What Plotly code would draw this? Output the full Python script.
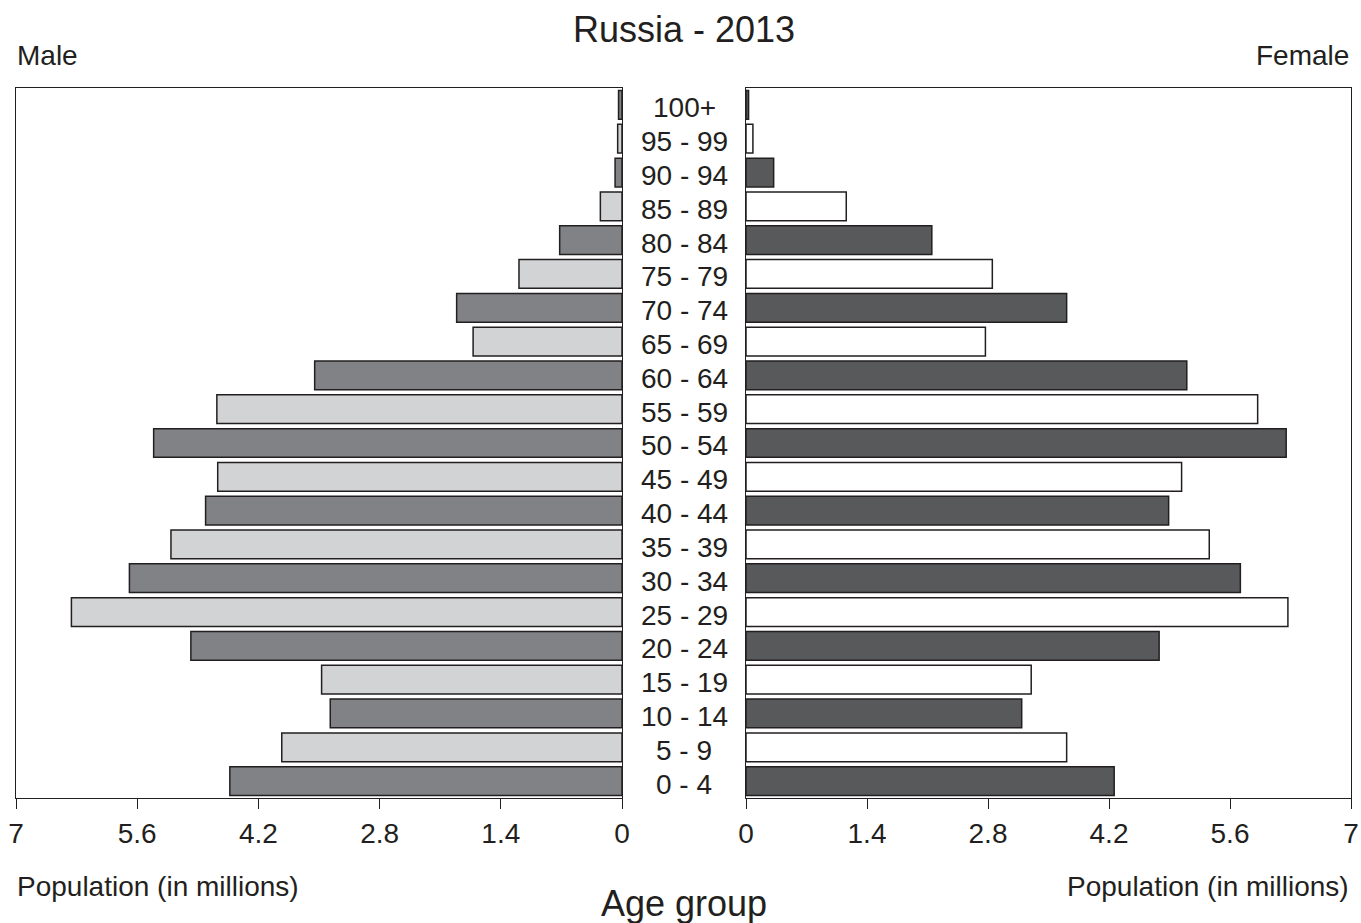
import plotly.graph_objects as go

age_groups = ["0 - 4", "5 - 9", "10 - 14", "15 - 19", "20 - 24", "25 - 29", "30 - 34",
              "35 - 39", "40 - 44", "45 - 49", "50 - 54", "55 - 59", "60 - 64", "65 - 69",
              "70 - 74", "75 - 79", "80 - 84", "85 - 89", "90 - 94", "95 - 99", "100+"]
male = [4.53, 3.93, 3.37, 3.47, 4.98, 6.36, 5.69, 5.21, 4.81, 4.67, 5.41, 4.68, 3.55,
        1.72, 1.91, 1.19, 0.72, 0.25, 0.08, 0.05, 0.04]
female = [4.26, 3.71, 3.19, 3.30, 4.78, 6.27, 5.72, 5.36, 4.89, 5.04, 6.25, 5.92, 5.10,
          2.77, 3.71, 2.85, 2.15, 1.16, 0.32, 0.08, 0.03]
tick_vals = [0, 1.4, 2.8, 4.2, 5.6, 7]
tick_text = ["0", "1.4", "2.8", "4.2", "5.6", "7"]

W, H = 1361, 923
ink = "#231f20"
male_cols = ["#808285" if i % 2 == 0 else "#d1d3d4" for i in range(len(age_groups))]
female_cols = ["#58595b" if i % 2 == 0 else "#ffffff" for i in range(len(age_groups))]
ypos = list(range(len(age_groups)))

fig = go.Figure()
fig.add_trace(go.Bar(x=male, y=ypos, orientation="h", xaxis="x", yaxis="y",
                     marker=dict(color=male_cols, line=dict(color=ink, width=1.5)),
                     showlegend=False, hoverinfo="x"))
fig.add_trace(go.Bar(x=female, y=ypos, orientation="h", xaxis="x2", yaxis="y2",
                     marker=dict(color=female_cols, line=dict(color=ink, width=1.5)),
                     showlegend=False, hoverinfo="x"))

font = "Liberation Sans, Arial, sans-serif"
ydom = [(H - 798) / H, (H - 88) / H]
axis_common = dict(showline=True, linecolor=ink, linewidth=1.2, mirror=True,
                   ticks="outside", ticklen=10, tickcolor=ink, tickwidth=1,
                   tickvals=tick_vals, ticktext=tick_text, showgrid=False, zeroline=False,
                   tickfont=dict(size=28, color=ink, family=font), fixedrange=True,
                   automargin=False)
yaxis_common = dict(range=[-0.5, len(age_groups) - 0.5], showticklabels=False, showgrid=False,
                    zeroline=False, showline=True, linecolor=ink, linewidth=1.2, mirror=True,
                    ticks="", domain=ydom, fixedrange=True, automargin=False)

fig.update_layout(
    width=W, height=H, autosize=False,
    margin=dict(l=0, r=0, t=0, b=0, autoexpand=False),
    paper_bgcolor="white", plot_bgcolor="white",
    bargap=0.15,
    font=dict(family=font, color=ink),
    xaxis=dict(domain=[16 / W, 622 / W], range=[7, 0], anchor="y", **axis_common),
    xaxis2=dict(domain=[746 / W, 1351 / W], range=[0, 7], anchor="y2", **axis_common),
    yaxis=dict(anchor="x", **yaxis_common),
    yaxis2=dict(anchor="x2", **yaxis_common),
)

ann = []
for i, g in enumerate(age_groups):
    ann.append(dict(x=684 / W, y=i, xref="paper", yref="y", text=g, showarrow=False, yshift=-3,
                    xanchor="center", yanchor="middle", font=dict(size=28, color=ink, family=font)))
ann += [
    dict(x=684 / W, y=1 - 30 / H, xref="paper", yref="paper", text="Russia - 2013", showarrow=False,
         xanchor="center", yanchor="middle", font=dict(size=36, color=ink, family=font)),
    dict(x=15 / W, y=1 - 55 / H, xref="paper", yref="paper", text="Male", showarrow=False,
         xanchor="left", yanchor="middle", font=dict(size=28, color=ink, family=font)),
    dict(x=1351 / W, y=1 - 55 / H, xref="paper", yref="paper", text="Female", showarrow=False,
         xanchor="right", yanchor="middle", font=dict(size=28, color=ink, family=font)),
    dict(x=15 / W, y=1 - 886 / H, xref="paper", yref="paper", text="Population (in millions)",
         showarrow=False, xanchor="left", yanchor="middle", font=dict(size=28, color=ink, family=font)),
    dict(x=1351 / W, y=1 - 886 / H, xref="paper", yref="paper", text="Population (in millions)",
         showarrow=False, xanchor="right", yanchor="middle", font=dict(size=28, color=ink, family=font)),
    dict(x=684 / W, y=1 - 903 / H, xref="paper", yref="paper", text="Age group",
         showarrow=False, xanchor="center", yanchor="middle", font=dict(size=36, color=ink, family=font)),
]
fig.update_layout(annotations=ann)

post = "document.body.style.margin='0';document.body.style.overflow='hidden';"
fig.write_html("out.html", config={"displayModeBar": False, "responsive": False},
               default_width="%dpx" % W, default_height="%dpx" % H, post_script=post)
